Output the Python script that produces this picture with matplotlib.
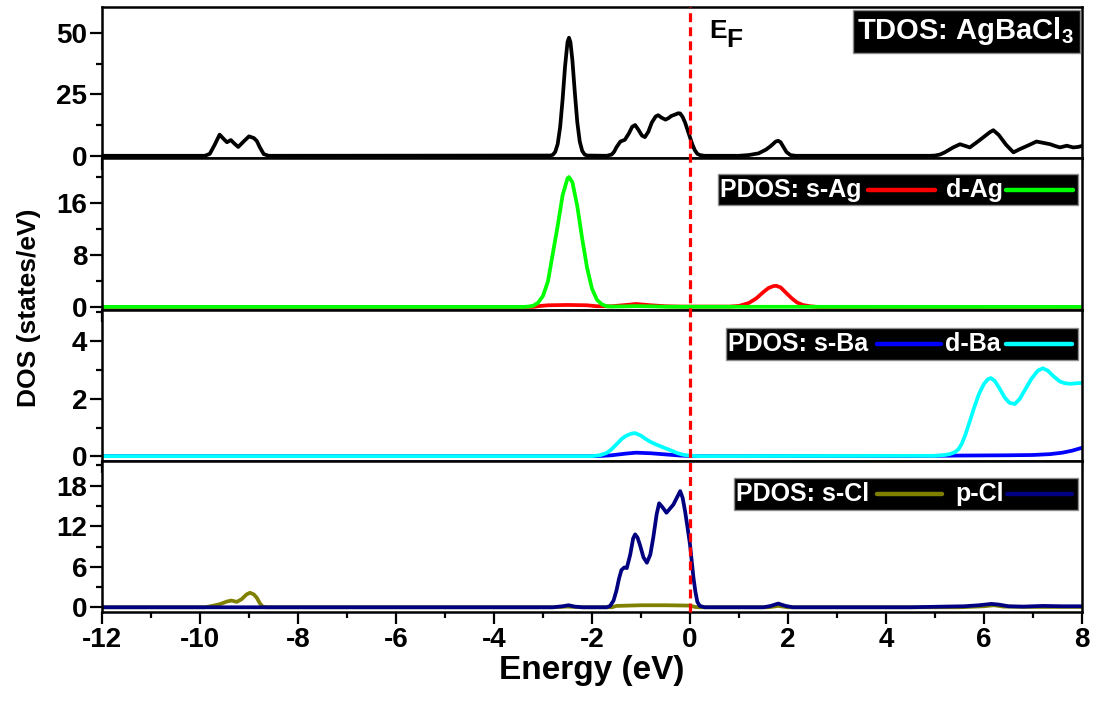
"""Total and projected DOS of AgBaCl3, four stacked panels."""

import matplotlib

matplotlib.use("Agg")

import matplotlib.pyplot as plt
from matplotlib.lines import Line2D
from matplotlib.patches import Rectangle
from matplotlib.ticker import MultipleLocator
from matplotlib.transforms import blended_transform_factory

# ---- data (energies in eV, DOS in states/eV) ----
tdos_e = [-12, -9.9, -9.8, -9.7, -9.6, -9.5, -9.45, -9.37, -9.3, -9.22, -9.1, -9.0,
          -8.9, -8.84, -8.78, -8.7, -8.6,
          -2.85, -2.8, -2.75, -2.7, -2.65, -2.6, -2.55, -2.5, -2.47, -2.44, -2.4,
          -2.35, -2.3, -2.25, -2.2, -2.15, -2.1,
          -1.7, -1.6, -1.55, -1.5, -1.42, -1.33, -1.25, -1.18, -1.12, -1.05, -0.98,
          -0.92, -0.85, -0.78, -0.7, -0.65, -0.58, -0.5, -0.44, -0.38, -0.3, -0.24,
          -0.2, -0.15, -0.1, -0.05, 0.0, 0.05, 0.1, 0.15, 0.2, 0.3,
          1.0, 1.2, 1.4, 1.55, 1.65, 1.75, 1.8, 1.85, 1.9, 1.97, 2.05, 2.15,
          4.9, 5.0, 5.1, 5.2, 5.37, 5.51, 5.62, 5.71, 5.82, 5.92, 6.03, 6.12, 6.19,
          6.3, 6.45, 6.6, 6.73, 6.9, 7.07, 7.2, 7.35, 7.45, 7.55, 7.69, 7.82, 7.92, 8.0]
tdos_v = [0, 0, 0.8, 4.5, 8.6, 6.5, 5.5, 6.4, 5.0, 3.6, 6.0, 7.9,
          7.2, 6.0, 3.5, 0.7, 0,
          0.1, 0.4, 1.6, 4.8, 11.7, 22.9, 36.3, 46.2, 48.0, 46.2, 38.8,
          25.6, 13.6, 5.8, 2.0, 0.5, 0.1,
          0, 0.5, 1.6, 3.5, 5.8, 6.5, 9.0, 11.8, 12.5, 10.5, 8.2,
          7.6, 9.8, 13.5, 16.0, 16.5, 15.5, 14.7, 15.3, 16.2, 16.8, 17.3,
          17.2, 15.8, 13.5, 10.5, 7.5, 4.5, 2.2, 0.8, 0.3, 0,
          0, 0.3, 1.0, 2.5, 4.0, 5.8, 6.1, 5.5, 3.8, 1.5, 0.3, 0,
          0, 0.1, 0.5, 1.4, 3.4, 4.7, 4.0, 3.4, 5.0, 6.5, 8.2, 9.6, 10.4,
          8.5, 4.5, 1.4, 2.7, 4.2, 5.8, 5.3, 4.7, 4.0, 3.4, 4.1, 3.4, 3.6, 4.0]

s_ag_e = [-12, -3.2, -3.05, -2.9, -2.5, -2.1, -1.9, -1.6, -1.3, -1.1, -0.8, -0.5,
          -0.2, 0.8, 1.0, 1.2, 1.35, 1.5, 1.6, 1.7, 1.76, 1.85, 1.97, 2.08, 2.18,
          2.3, 2.45, 2.6, 8]
s_ag_v = [0, 0, 0.15, 0.25, 0.3, 0.25, 0.1, 0.1, 0.3, 0.45, 0.25, 0.1,
          0.05, 0.05, 0.15, 0.6, 1.3, 2.3, 2.9, 3.2, 3.25, 3.0, 2.1, 1.3, 0.7,
          0.3, 0.1, 0, 0]

d_ag_e = [-12, -3.4, -3.3, -3.2, -3.1, -3.0, -2.9, -2.8, -2.7, -2.6, -2.5, -2.47,
          -2.4, -2.3, -2.2, -2.1, -2.0, -1.9, -1.8, -1.7, -1.6, -1.3, -1.1, -0.8,
          -0.5, 8]
d_ag_v = [0, 0, 0.05, 0.18, 0.64, 1.7, 3.9, 8.2, 12.5, 17.2, 19.8, 20.0,
          19.2, 15.5, 10.5, 6.0, 2.8, 1.1, 0.4, 0.1, 0.05, 0.08, 0.12, 0.08,
          0.02, 0]

s_ba_e = [-12, -1.9, -1.6, -1.3, -1.1, -0.8, -0.5, -0.2, 0.1, 4.5, 5.5, 6.5, 7.0,
          7.35, 7.6, 7.8, 8.0]
s_ba_v = [0.01, 0.01, 0.04, 0.1, 0.13, 0.11, 0.07, 0.03, 0.01, 0.01, 0.03, 0.04,
          0.05, 0.08, 0.13, 0.2, 0.3]

d_ba_e = [-12, -2.0, -1.84, -1.7, -1.6, -1.5, -1.4, -1.3, -1.2, -1.12, -1.0, -0.9,
          -0.8, -0.7, -0.6, -0.48, -0.35, -0.25, -0.14, 0.0, 0.2, 5.0, 5.2, 5.3,
          5.4, 5.48, 5.55, 5.63, 5.71, 5.8, 5.9, 6.0, 6.08, 6.14, 6.22, 6.32, 6.42,
          6.52, 6.63, 6.73, 6.85, 6.97, 7.1, 7.2, 7.3, 7.42, 7.55, 7.65, 7.76, 7.88,
          8.0]
d_ba_v = [0.01, 0.01, 0.04, 0.12, 0.25, 0.42, 0.6, 0.72, 0.79, 0.81, 0.72, 0.6,
          0.5, 0.42, 0.35, 0.27, 0.18, 0.11, 0.06, 0.02, 0.01, 0.02, 0.05, 0.08,
          0.14, 0.25, 0.45, 0.8, 1.22, 1.7, 2.18, 2.52, 2.68, 2.72, 2.62, 2.35, 2.05,
          1.86, 1.82, 2.0, 2.35, 2.7, 2.98, 3.06, 2.98, 2.78, 2.6, 2.54, 2.52, 2.54,
          2.55]

s_cl_e = [-12, -9.9, -9.75, -9.6, -9.45, -9.36, -9.25, -9.15, -9.05, -8.98, -8.9,
          -8.84, -8.78, -8.72, -8.65, -2.8, -2.5, -2.2, -1.6, -1.5, -1.0, -0.5, 0.0,
          0.1, 0.2, 1.6, 1.8, 2.0, 5.5, 6.0, 6.2, 6.4, 6.8, 8.0]
s_cl_v = [0, 0, 0.2, 0.45, 0.85, 1.0, 0.8, 1.2, 1.9, 2.15, 1.9,
          1.4, 0.6, 0.1, 0, 0, 0.1, 0, 0, 0.2, 0.3, 0.3, 0.25,
          0.05, 0, 0, 0.2, 0, 0, 0.15, 0.3, 0.1, 0.05, 0.05]

p_cl_e = [-12, -2.8, -2.6, -2.48, -2.35, -2.2, -1.7, -1.63, -1.56, -1.5, -1.45,
          -1.4, -1.34, -1.29, -1.22, -1.16, -1.12, -1.07, -1.02, -0.95, -0.88,
          -0.81, -0.75, -0.68, -0.63, -0.56, -0.48, -0.41, -0.34, -0.27, -0.2,
          -0.15, -0.1, -0.05, 0.0, 0.04, 0.07, 0.11, 0.15, 0.2, 0.3, 1.5, 1.65,
          1.8, 1.95, 2.1, 4.5, 5.2, 5.6, 5.9, 6.15, 6.3, 6.5, 6.8, 7.2, 7.6, 8.0]
p_cl_v = [0, 0, 0.15, 0.3, 0.1, 0, 0, 0.2, 1.0, 2.5, 4.2,
          5.5, 5.9, 5.8, 7.8, 10.2, 10.8, 10.3, 9.2, 7.4, 6.6,
          7.8, 10.3, 13.8, 15.4, 14.8, 14.0, 14.6, 15.2, 16.2, 17.2,
          16.2, 14.2, 11.8, 9.3, 6.5, 4.4, 2.3, 0.8, 0.2, 0, 0, 0.2,
          0.55, 0.2, 0, 0, 0.1, 0.15, 0.3, 0.5, 0.4, 0.15, 0.1, 0.2, 0.15, 0.15]

x_ticks = [-12, -10, -8, -6, -4, -2, 0, 2, 4, 6, 8]

# ---- figure ----
W, H = 1097, 721

plt.rcParams.update({
    "font.family": ["Liberation Sans", "DejaVu Sans"],
    "font.weight": "bold",
    "axes.labelweight": "bold",
    "mathtext.fontset": "custom",
    "mathtext.rm": "Liberation Sans:bold",
    "mathtext.bf": "Liberation Sans:bold",
    "mathtext.it": "Liberation Sans:bold",
})


def fx(x):
    return x / W


def fy(y):
    return 1 - y / H


fig = plt.figure(figsize=(W / 100, H / 100), dpi=100)
gs = fig.add_gridspec(4, 1, left=fx(102), right=fx(1082), top=fy(7), bottom=fy(612),
                      hspace=0)
ax1 = fig.add_subplot(gs[0])
ax2 = fig.add_subplot(gs[1], sharex=ax1)
ax3 = fig.add_subplot(gs[2], sharex=ax1)
ax4 = fig.add_subplot(gs[3], sharex=ax1)
axes = [ax1, ax2, ax3, ax4]

lw = 2.7
ax1.plot(tdos_e, tdos_v, color="black", lw=lw)
ax2.plot(s_ag_e, s_ag_v, color="#ff0000", lw=lw)
ax2.plot(d_ag_e, d_ag_v, color="#00ff00", lw=lw)
ax3.plot(s_ba_e, s_ba_v, color="#0000ff", lw=lw)
ax3.plot(d_ba_e, d_ba_v, color="#00ffff", lw=lw)
ax4.plot(s_cl_e, s_cl_v, color="#808000", lw=lw)
ax4.plot(p_cl_e, p_cl_v, color="#000080", lw=lw)

limits = [(-1, 60.5), (-0.4, 22.9), (-0.15, 5.1), (-0.7, 21.7)]
major = [[0, 25, 50], [0, 8, 16], [0, 2, 4], [0, 6, 12, 18]]
minor = [12.5, 4, 1, 3]

for ax, lim, mj, mn in zip(axes, limits, major, minor):
    ax.set_xlim(-12, 8)
    ax.set_ylim(*lim)
    ax.set_yticks(mj)
    ax.yaxis.set_minor_locator(MultipleLocator(mn))
    ax.set_xticks(x_ticks)
    ax.xaxis.set_minor_locator(MultipleLocator(1))
    ax.tick_params(which="major", direction="out", length=8.5, width=1.6,
                   labelsize=20, pad=2, top=False, right=False)
    ax.tick_params(which="minor", direction="out", length=4.5, width=1.6,
                   top=False, right=False)
    for spine in ax.spines.values():
        spine.set_linewidth(1.8)
    if ax is not ax4:
        ax.tick_params(labelbottom=False)

ax4.set_xticklabels([str(t) for t in x_ticks])
ax4.set_xlabel("Energy (eV)", fontsize=24, labelpad=2)
fig.text(fx(29), fy(308), "DOS (states/eV)", rotation=90, fontsize=19,
         ha="center", va="center")

# Fermi level through all panels
trans = blended_transform_factory(ax1.transData, fig.transFigure)
fig.add_artist(Line2D([0, 0], [fy(612), fy(7)], transform=trans, color="#ff0000",
                      lw=2.3, ls=(0, (2.8, 1.6)), zorder=5))
fig.text(fx(709), fy(31), "E", fontsize=19, ha="left", va="center")
fig.text(fx(726), fy(40), "F", fontsize=19, ha="left", va="center")


def legend_box(x0, y0, x1, y1):
    fig.add_artist(Rectangle((fx(x0), fy(y1)), fx(x1 - x0), y1 / H - y0 / H,
                             transform=fig.transFigure, facecolor="black",
                             edgecolor="#8c8c8c", lw=1.0, zorder=6))


def legend_key(x0, x1, y, color):
    fig.add_artist(Line2D([fx(x0), fx(x1)], [fy(y), fy(y)], transform=fig.transFigure,
                          color=color, lw=3.2, solid_capstyle="round", zorder=7))


legend_box(853, 10, 1080, 53)
fig.text(fx(857), fy(31), r"TDOS: AgBaCl$_{\mathbf{3}}$", fontsize=21, color="white",
         ha="left", va="center", zorder=8)

pdos_rows = [
    (174, 205, 718, [("PDOS: s-Ag", 720, 868, 935, "#ff0000"),
                     ("d-Ag", 946, 1006, 1073, "#00ff00")]),
    (328, 360, 726, [("PDOS: s-Ba", 728, 877, 941, "#0000ff"),
                     ("d-Ba", 945, 1006, 1072, "#00ffff")]),
    (478, 510, 734, [("PDOS: s-Cl", 736, 877, 942, "#808000"),
                     ("p-Cl", 955, 1007, 1072, "#000080")]),
]
for top, bottom, left, entries in pdos_rows:
    legend_box(left, top, 1078, bottom)
    yc = (top + bottom) / 2
    for label, xt, xl0, xl1, color in entries:
        fig.text(fx(xt), fy(yc), label, fontsize=18, color="white", ha="left",
                 va="center", zorder=8)
        legend_key(xl0, xl1, yc, color)

fig.savefig("out.png", dpi=100)
